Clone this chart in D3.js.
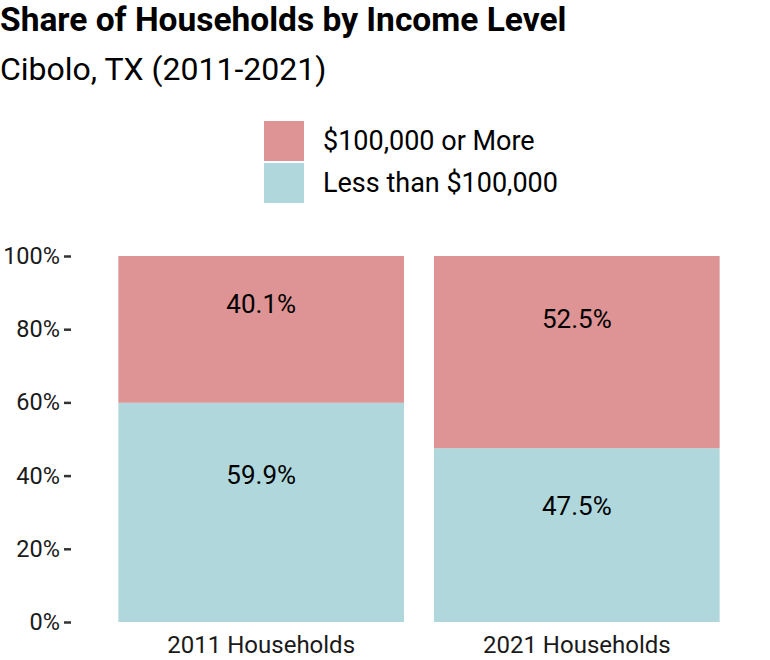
<!DOCTYPE html>
<html>
<head>
<meta charset="utf-8">
<script src="https://cdn.jsdelivr.net/npm/d3@7"></script>
<style>
  body { margin: 0; background: #fff; }
  text { font-family: Roboto, "Noto Sans", sans-serif; }
</style>
</head>
<body>
<div id="viz"></div>
<script>

var years = ["2011 Households", "2021 Households"];
var series = ["$100,000 or More", "Less than $100,000"];
var highIncome = [40.1, 52.5];
var lowIncome = [59.9, 47.5];
var yTicks = [0, 20, 40, 60, 80, 100];

var _colors = {
    high: "#de9494",
    low: "#b0d8dc"
};

var svg = d3.select("#viz")
    .append("svg")
    .attr("width", 770)
    .attr("height", 660);

// titles
svg.append("text")
    .attr("x", 0)
    .attr("y", 31)
    .style("font-size", "33.5px")
    .style("font-weight", "bold")
    .text("Share of Households by Income Level");

svg.append("text")
    .attr("x", 0)
    .attr("y", 80)
    .style("font-size", "32px")
    .text("Cibolo, TX (2011-2021)");

// legend
var legend = svg.append("g").attr("transform", "translate(264,121)");
[_colors.high, _colors.low].forEach(function(c, i){
    legend.append("rect")
        .attr("x", 0)
        .attr("y", i * 42)
        .attr("width", 40)
        .attr("height", 40)
        .style("fill", c);
    legend.append("text")
        .attr("x", 59)
        .attr("y", i * 42 + 29)
        .style("font-size", "27px")
        .text(series[i]);
});

// scales
var x = d3.scaleBand()
    .domain(years)
    .range([71, 767])
    .paddingInner(0.095)
    .paddingOuter(0.15);

var y = d3.scaleLinear()
    .domain([0, 100])
    .range([622, 256]);

var rows = years.map(function(d, i){
    return {year: d, low: lowIncome[i], high: highIncome[i]};
});

var stack = d3.stack().keys(["low", "high"])(rows);

var layer = svg.selectAll("g.layer")
    .data(stack)
    .enter()
    .append("g")
    .attr("class", "layer")
    .style("fill", function(d){ return _colors[d.key]; });

layer.selectAll("rect")
    .data(function(d){ return d; })
    .enter()
    .append("rect")
    .attr("x", function(d){ return x(d.data.year); })
    .attr("width", x.bandwidth())
    .attr("y", function(d){ return y(d[1]); })
    .attr("height", function(d){ return y(d[0]) - y(d[1]); });

layer.selectAll("text")
    .data(function(d){ return d; })
    .enter()
    .append("text")
    .attr("text-anchor", "middle")
    .attr("dominant-baseline", "central")
    .style("fill", "#000")
    .style("font-size", "26px")
    .attr("x", function(d){ return x(d.data.year) + x.bandwidth() / 2; })
    .attr("y", function(d){ return y(d[0] + (d[1] - d[0]) * 0.67); })
    .text(function(d){ return (d[1] - d[0]).toFixed(1) + "%"; });

// y axis
var yAxis = svg.append("g")
    .attr("transform", "translate(71,0)")
    .call(d3.axisLeft(y).tickValues(yTicks).tickSize(7).tickPadding(4)
        .tickFormat(function(d){ return d + "%"; }));
yAxis.select(".domain").remove();
yAxis.selectAll("line").style("stroke", "#333").style("stroke-width", 2.5);
yAxis.selectAll("text")
    .style("font-size", "23.5px")
    .style("fill", "#1a1a1a")
    .style("font-family", "Roboto, sans-serif");

// x axis
var xAxis = svg.append("g")
    .attr("transform", "translate(0,622)")
    .call(d3.axisBottom(x).tickSize(0).tickPadding(14));
xAxis.select(".domain").remove();
xAxis.selectAll("text")
    .style("font-size", "24px")
    .style("fill", "#1a1a1a")
    .style("font-family", "Roboto, sans-serif");

</script>
</body>
</html>
